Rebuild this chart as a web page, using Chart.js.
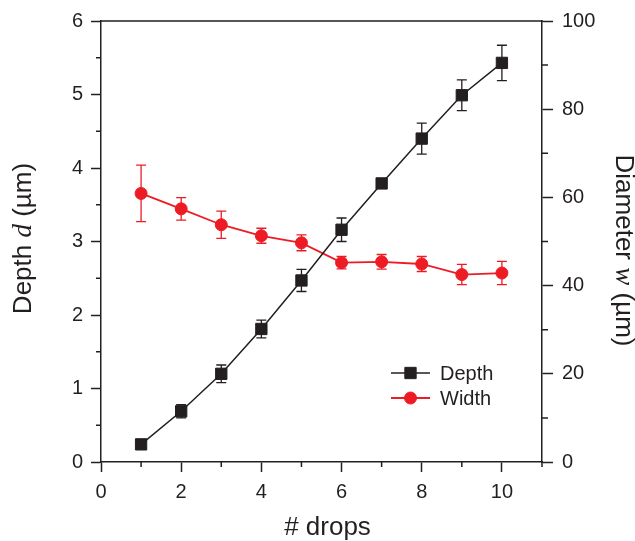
<!DOCTYPE html>
<html>
<head>
<meta charset="utf-8">
<script src="https://cdn.jsdelivr.net/npm/chart.js@4.4.1/dist/chart.umd.min.js"></script>
<style>
  html, body { margin: 0; padding: 0; background: #fff; }
  #wrap { width: 635px; height: 541px; }
</style>
</head>
<body>
<div id="wrap"><canvas id="c" width="635" height="541"></canvas></div>
<script>
// Number of drops deposited
const drops = [1, 2, 3, 4, 5, 6, 7, 8, 9, 10];
// Crater depth d (µm) and its standard deviation
const depth    = [0.24, 0.69, 1.20, 1.81, 2.47, 3.16, 3.79, 4.40, 4.99, 5.43];
const depthErr = [0.04, 0.09, 0.12, 0.12, 0.15, 0.16, 0.04, 0.21, 0.21, 0.24];
// Crater diameter w (µm) and its standard deviation
const diameter    = [60.9, 57.4, 53.8, 51.3, 49.7, 45.2, 45.4, 44.9, 42.5, 42.85];
const diameterErr = [6.4, 2.55, 3.1, 1.7, 1.8, 1.4, 1.65, 1.7, 2.3, 2.65];
// Labelled tick values
const xTickLabels = [0, 2, 4, 6, 8, 10];
const depthTickLabels = [0, 1, 2, 3, 4, 5, 6];
const diameterTickLabels = [0, 20, 40, 60, 80, 100];

const INK = '#231f20';
const RED = '#ed1c24';
const SANS = '"Liberation Sans", Arial, Helvetica, sans-serif';
const SERIF = '"Liberation Serif", "Times New Roman", serif';

const isLabelled = (list, v) => list.some(t => Math.abs(t - v) < 1e-6);

// Vertical error bars with caps, drawn beneath the markers
const errorBarPlugin = {
  id: 'errorBars',
  beforeDatasetsDraw(chart) {
    const ctx = chart.ctx;
    const xs = chart.scales.x;
    chart.data.datasets.forEach((ds, di) => {
      const ys = chart.scales[ds.yAxisID];
      ctx.save();
      ctx.strokeStyle = ds.borderColor;
      ctx.lineWidth = 1.3;
      ds.data.forEach((p, i) => {
        const e = ds.errors[i];
        const x = xs.getPixelForValue(p.x);
        const yt = ys.getPixelForValue(p.y + e);
        const yb = ys.getPixelForValue(p.y - e);
        const cap = 5;
        ctx.beginPath();
        ctx.moveTo(x, yt); ctx.lineTo(x, yb);
        ctx.moveTo(x - cap, yt); ctx.lineTo(x + cap, yt);
        ctx.moveTo(x - cap, yb); ctx.lineTo(x + cap, yb);
        ctx.stroke();
      });
      ctx.restore();
    });
  }
};

// Short minor ticks, top frame line, axis titles and the inset legend
const decorPlugin = {
  id: 'decor',
  afterDraw(chart) {
    const ctx = chart.ctx;
    const a = chart.chartArea;
    ctx.save();
    ctx.strokeStyle = INK;
    ctx.lineWidth = 1.5;
    // minor ticks
    const minor = 5;
    const sx = chart.scales.x, sy = chart.scales.y, sy2 = chart.scales.y2;
    ctx.beginPath();
    sx.ticks.forEach(t => {
      if (!isLabelled(xTickLabels, t.value)) {
        const px = sx.getPixelForValue(t.value);
        ctx.moveTo(px, a.bottom); ctx.lineTo(px, a.bottom + minor);
      }
    });
    sy.ticks.forEach(t => {
      if (!isLabelled(depthTickLabels, t.value)) {
        const py = sy.getPixelForValue(t.value);
        ctx.moveTo(a.left, py); ctx.lineTo(a.left - minor, py);
      }
    });
    sy2.ticks.forEach(t => {
      if (!isLabelled(diameterTickLabels, t.value)) {
        const py = sy2.getPixelForValue(t.value);
        ctx.moveTo(a.right, py); ctx.lineTo(a.right + minor + 1, py);
      }
    });
    // top frame
    ctx.moveTo(a.left - 0.75, a.top); ctx.lineTo(a.right + 0.75, a.top);
    ctx.stroke();
    ctx.restore();

    // axis titles
    const T = 26;
    drawRich(ctx, [
      { text: 'Depth ', font: `${T}px ${SANS}` },
      { text: 'd', font: `italic ${T + 1}px ${SERIF}` },
      { text: ' (µm)', font: `${T}px ${SANS}` }
    ], 31, (a.top + a.bottom) / 2 - 3, -Math.PI / 2);
    drawRich(ctx, [
      { text: 'Diameter ', font: `${T}px ${SANS}` },
      { text: 'w', font: `italic ${T + 1}px ${SERIF}` },
      { text: ' (µm)', font: `${T}px ${SANS}` }
    ], 616, (a.top + a.bottom) / 2 + 9, Math.PI / 2);
    drawRich(ctx, [
      { text: '# drops', font: `${T}px ${SANS}` }
    ], (a.left + a.right) / 2 + 6, 535, 0);

    // legend
    const lx = a.left + 290, ly = a.top + 352, gap = 25;
    chart.data.datasets.forEach((ds, i) => {
      const y = ly + i * gap;
      ctx.save();
      ctx.strokeStyle = ds.borderColor;
      ctx.lineWidth = ds.borderWidth;
      ctx.beginPath();
      ctx.moveTo(lx, y); ctx.lineTo(lx + 39, y);
      ctx.stroke();
      ctx.fillStyle = ds.pointBackgroundColor;
      ctx.strokeStyle = ds.pointBorderColor;
      ctx.lineWidth = 1;
      Chart.helpers.drawPoint(ctx, { pointStyle: ds.pointStyle, radius: ds.pointRadius, rotation: 0, borderWidth: 1 }, lx + 19.5, y);
      ctx.fillStyle = INK;
      ctx.font = `20px ${SANS}`;
      ctx.textBaseline = 'middle';
      ctx.textAlign = 'left';
      ctx.fillText(ds.label, lx + 49, y + 1);
      ctx.restore();
    });
  }
};

function drawRich(ctx, parts, x, y, angle) {
  ctx.save();
  ctx.translate(x, y);
  ctx.rotate(angle);
  let total = 0;
  parts.forEach(p => { ctx.font = p.font; p.w = ctx.measureText(p.text).width; total += p.w; });
  let cx = -total / 2;
  ctx.textBaseline = 'alphabetic';
  ctx.textAlign = 'left';
  ctx.fillStyle = INK;
  parts.forEach(p => { ctx.font = p.font; ctx.fillText(p.text, cx, 0); cx += p.w; });
  ctx.restore();
}

const tickFont = { family: SANS, size: 20 };

new Chart(document.getElementById('c'), {
  type: 'line',
  data: {
    datasets: [
      {
        label: 'Depth',
        yAxisID: 'y',
        data: drops.map((x, i) => ({ x, y: depth[i] })),
        errors: depthErr,
        borderColor: INK,
        borderWidth: 1.5,
        pointStyle: 'rect',
        pointRadius: 8,
        pointBackgroundColor: INK,
        pointBorderColor: INK,
        pointBorderWidth: 1,
        tension: 0
      },
      {
        label: 'Width',
        yAxisID: 'y2',
        data: drops.map((x, i) => ({ x, y: diameter[i] })),
        errors: diameterErr,
        borderColor: RED,
        borderWidth: 1.8,
        pointStyle: 'circle',
        pointRadius: 6,
        pointBackgroundColor: RED,
        pointBorderColor: RED,
        pointBorderWidth: 1,
        tension: 0
      }
    ]
  },
  options: {
    responsive: false,
    animation: false,
    devicePixelRatio: 1,
    layout: { padding: { top: 20, left: 0, right: 0, bottom: 0 } },
    plugins: { legend: { display: false }, tooltip: { enabled: false } },
    scales: {
      x: {
        type: 'linear', position: 'bottom', min: 0, max: 11,
        afterFit: s => { s.height = 79; },
        border: { color: INK, width: 1.5 },
        grid: {
          drawOnChartArea: false, tickLength: 10, tickWidth: 1.5,
          tickColor: c => isLabelled(xTickLabels, c.tick.value) ? INK : 'rgba(0,0,0,0)'
        },
        ticks: {
          stepSize: 1, autoSkip: false, maxRotation: 0, padding: 8,
          color: INK, font: tickFont,
          callback: v => isLabelled(xTickLabels, v) ? String(v) : ''
        }
      },
      y: {
        type: 'linear', position: 'left', min: 0, max: 6,
        afterFit: s => { s.width = 101; },
        border: { color: INK, width: 1.5 },
        grid: {
          drawOnChartArea: false, tickLength: 10, tickWidth: 1.5,
          tickColor: c => isLabelled(depthTickLabels, c.tick.value) ? INK : 'rgba(0,0,0,0)'
        },
        ticks: {
          stepSize: 0.5, autoSkip: false, padding: 8,
          color: INK, font: tickFont,
          callback: v => isLabelled(depthTickLabels, v) ? String(v) : ''
        }
      },
      y2: {
        type: 'linear', position: 'right', min: 0, max: 100,
        afterFit: s => { s.width = 93; },
        border: { color: INK, width: 1.5 },
        grid: {
          drawOnChartArea: false, tickLength: 11, tickWidth: 1.5,
          tickColor: c => isLabelled(diameterTickLabels, c.tick.value) ? INK : 'rgba(0,0,0,0)'
        },
        ticks: {
          stepSize: 10, autoSkip: false, padding: 9,
          color: INK, font: tickFont,
          callback: v => isLabelled(diameterTickLabels, v) ? String(v) : ''
        }
      }
    }
  },
  plugins: [errorBarPlugin, decorPlugin]
});
</script>
</body>
</html>
